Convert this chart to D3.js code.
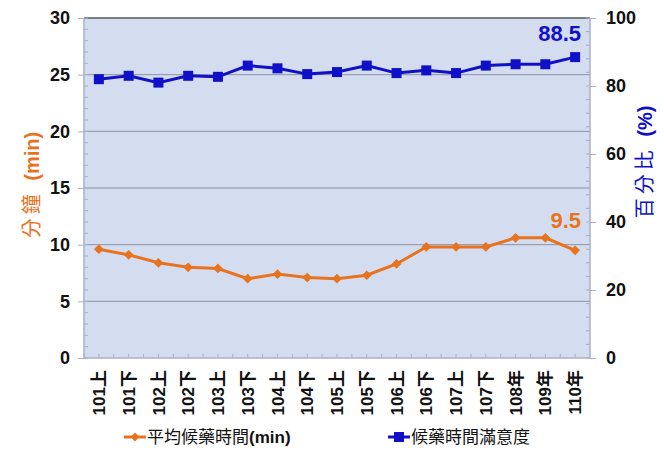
<!DOCTYPE html>
<html>
<head>
<meta charset="utf-8">
<script src="https://cdn.jsdelivr.net/npm/d3@7"></script>
<style>
  body { margin: 0; background: #fff; }
  text { font-family: "Liberation Sans", Arial, "Noto Sans CJK TC", sans-serif; }
</style>
</head>
<body>
<div id="chart"></div>
<script>
// Data
const categories = ["101上", "101下", "102上", "102下", "103上", "103下", "104上", "104下",
  "105上", "105下", "106上", "106下", "107上", "107下", "108年", "109年", "110年"];
const waitMinutes = [9.6, 9.1, 8.4, 8.0, 7.9, 7.0, 7.4, 7.1, 7.0, 7.3, 8.3, 9.8, 9.8, 9.8, 10.6, 10.6, 9.5];
const satisfaction = [82, 83, 81, 83, 82.7, 86, 85.2, 83.5, 84.1, 86, 83.8, 84.6, 83.8, 86, 86.4, 86.4, 88.5];
const leftTicks = [0, 5, 10, 15, 20, 25, 30];
const rightTicks = [0, 20, 40, 60, 80, 100];

const W = 664, H = 451;
const margin = { top: 18, right: 74, bottom: 93, left: 84 };
const width = W - margin.left - margin.right;
const height = H - margin.top - margin.bottom;

const orange = "#E8731E";
const blue = "#1010C8";

const svg = d3.select("#chart").append("svg")
  .attr("width", W).attr("height", H);

const g = svg.append("g")
  .attr("transform", `translate(${margin.left},${margin.top})`);

// Scales
const x = d3.scaleBand().domain(categories).range([0, width]);
const yL = d3.scaleLinear().domain([0, 30]).range([height, 0]);
const yR = d3.scaleLinear().domain([0, 100]).range([height, 0]);
const cx = d => x(d) + x.bandwidth() / 2;

// Plot background
g.append("rect")
  .attr("width", width).attr("height", height)
  .attr("fill", "#D4DDF0");

// Grid lines
g.append("g").selectAll("line")
  .data(leftTicks.slice(1, -1))
  .join("line")
  .attr("x1", 0).attr("x2", width)
  .attr("y1", d => yL(d)).attr("y2", d => yL(d))
  .attr("stroke", "#8C93A8").attr("stroke-width", 1);

// Frame
g.append("line").attr("x1", 0).attr("x2", width).attr("y1", 0).attr("y2", 0)
  .attr("stroke", "#55585f").attr("stroke-width", 1.5);
g.append("line").attr("x1", 0).attr("x2", 0).attr("y1", 0).attr("y2", height)
  .attr("stroke", "#A9B0C8").attr("stroke-width", 1.5);
g.append("line").attr("x1", width).attr("x2", width).attr("y1", 0).attr("y2", height)
  .attr("stroke", "#A9B0C8").attr("stroke-width", 1.5);
g.append("line").attr("x1", 0).attr("x2", width).attr("y1", height).attr("y2", height)
  .attr("stroke", "#A9B0C8").attr("stroke-width", 1.5);

// Minor ticks
g.append("g").selectAll("line")
  .data(d3.range(0, 31, 1))
  .join("line")
  .attr("x1", 0).attr("x2", 4)
  .attr("y1", d => yL(d)).attr("y2", d => yL(d))
  .attr("stroke", "#A9B0C8");
g.append("g").selectAll("line")
  .data(d3.range(0, 101, 4))
  .join("line")
  .attr("x1", width - 4).attr("x2", width)
  .attr("y1", d => yR(d)).attr("y2", d => yR(d))
  .attr("stroke", "#A9B0C8");
const halfTicks = [];
categories.forEach(c => { halfTicks.push(x(c)); halfTicks.push(cx(c)); });
g.append("g").selectAll("line")
  .data(halfTicks)
  .join("line")
  .attr("x1", d => d).attr("x2", d => d)
  .attr("y1", height).attr("y2", height - 4)
  .attr("stroke", "#A9B0C8");

// Left axis
const axL = g.append("g")
  .call(d3.axisLeft(yL).tickValues(leftTicks).tickSize(6).tickPadding(8));
axL.select(".domain").remove();
axL.selectAll("line").attr("stroke", "#A9B0C8");
axL.selectAll("text")
  .attr("font-size", 18).attr("font-weight", "bold").attr("fill", "#111");

// Right axis
const axR = g.append("g")
  .attr("transform", `translate(${width},0)`)
  .call(d3.axisRight(yR).tickValues(rightTicks).tickSize(6).tickPadding(10));
axR.select(".domain").remove();
axR.selectAll("line").attr("stroke", "#A9B0C8");
axR.selectAll("text")
  .attr("font-size", 18).attr("font-weight", "bold").attr("fill", "#111");

// X labels
g.append("g").selectAll("text")
  .data(categories)
  .join("text")
  .attr("transform", d => `translate(${cx(d)},${height + 12}) rotate(-90)`)
  .attr("text-anchor", "end")
  .attr("dy", "0.36em")
  .attr("font-size", 17)
  .attr("font-weight", "bold")
  .attr("fill", "#111")
  .text(d => d);

// Axis titles
const titleL = svg.append("text")
  .attr("transform", `translate(32,185) rotate(-90)`)
  .attr("text-anchor", "middle")
  .attr("dy", "0.35em")
  .attr("font-size", 20)
  .attr("fill", orange);
titleL.append("tspan").attr("letter-spacing", 4).text("分鐘 ");
titleL.append("tspan").attr("font-weight", "bold").text("(min)");

const titleR = svg.append("text")
  .attr("transform", `translate(645,162) rotate(-90)`)
  .attr("text-anchor", "middle")
  .attr("dy", "0.35em")
  .attr("font-size", 20)
  .attr("fill", blue);
titleR.append("tspan").attr("letter-spacing", 4).text("百分比 ");
titleR.append("tspan").attr("font-weight", "bold").text("(%)");

// Lines
const lineL = d3.line().x((d, i) => cx(categories[i])).y(d => yL(d));
const lineR = d3.line().x((d, i) => cx(categories[i])).y(d => yR(d));

g.append("path").datum(waitMinutes)
  .attr("d", lineL).attr("fill", "none")
  .attr("stroke", orange).attr("stroke-width", 3);
g.append("g").selectAll("path")
  .data(waitMinutes)
  .join("path")
  .attr("transform", (d, i) => `translate(${cx(categories[i])},${yL(d)})`)
  .attr("d", d3.symbol(d3.symbolDiamond2, 60))
  .attr("fill", orange);

g.append("path").datum(satisfaction)
  .attr("d", lineR).attr("fill", "none")
  .attr("stroke", blue).attr("stroke-width", 3);
g.append("g").selectAll("rect")
  .data(satisfaction)
  .join("rect")
  .attr("x", (d, i) => cx(categories[i]) - 5)
  .attr("y", d => yR(d) - 5)
  .attr("width", 10).attr("height", 10)
  .attr("fill", blue);

// Value labels for the last point
const last = categories.length - 1;
g.append("text")
  .attr("x", cx(categories[last]) + 6)
  .attr("y", yR(satisfaction[last]) - 16)
  .attr("text-anchor", "end")
  .attr("font-size", 22).attr("font-weight", "bold")
  .attr("fill", blue)
  .text(satisfaction[last]);
g.append("text")
  .attr("x", cx(categories[last]) + 6)
  .attr("y", yL(waitMinutes[last]) - 22)
  .attr("text-anchor", "end")
  .attr("font-size", 22).attr("font-weight", "bold")
  .attr("fill", orange)
  .text(waitMinutes[last]);

// Legend
const legend = svg.append("g").attr("transform", "translate(0,437)");
legend.append("line").attr("x1", 124).attr("x2", 146).attr("y1", 0).attr("y2", 0)
  .attr("stroke", orange).attr("stroke-width", 3);
legend.append("path").attr("transform", "translate(135,0)")
  .attr("d", d3.symbol(d3.symbolDiamond2, 50)).attr("fill", orange);
legend.append("text").attr("x", 147).attr("y", 0).attr("dy", "0.35em")
  .attr("font-size", 17).attr("fill", "#111")
  .text("平均候藥時間")
  .append("tspan").attr("font-weight", "bold").text("(min)");
legend.append("line").attr("x1", 388).attr("x2", 410).attr("y1", 0).attr("y2", 0)
  .attr("stroke", blue).attr("stroke-width", 3);
legend.append("rect").attr("x", 394).attr("y", -5).attr("width", 10).attr("height", 10)
  .attr("fill", blue);
legend.append("text").attr("x", 411).attr("y", 0).attr("dy", "0.35em")
  .attr("font-size", 17).attr("fill", "#111")
  .text("候藥時間滿意度");
</script>
</body>
</html>
